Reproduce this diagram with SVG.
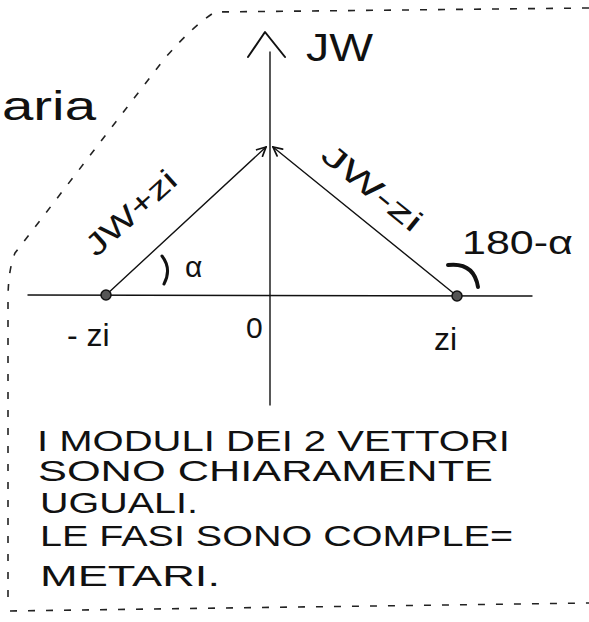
<svg xmlns="http://www.w3.org/2000/svg" width="589" height="622" viewBox="0 0 589 622">
  <style>
    .ink { stroke: #111; fill: none; stroke-linecap: round; stroke-linejoin: round; }
    .thin { stroke-width: 1.4; }
    .dash { stroke: #222; fill: none; stroke-width: 1.6; stroke-dasharray: 7 11; }
    .t { font-family: "Liberation Sans", "DejaVu Sans", sans-serif; fill: #111; }
    .note { font-size: 29px; }
  </style>
  <defs>
    <marker id="vhead" viewBox="0 0 20 20" refX="18" refY="10" markerWidth="11" markerHeight="11" markerUnits="userSpaceOnUse" orient="auto">
      <path d="M 2 2 L 18 10 L 2 18" stroke="#111" stroke-width="3.2" fill="none" stroke-linecap="round"/>
    </marker>
  </defs>
  <rect width="589" height="622" fill="#fff"/>

  <g id="boundary">
    <path class="dash" d="M 589 8 L 215 12 Q 195 24 165 58 L 15 253 Q 8 270 8 300 L 8 606 M 10 611 L 589 603"/>
  </g>

  <g id="connectors">
    <line class="ink thin" x1="270" y1="405" x2="270" y2="52"/>
    <path class="ink" stroke-width="2" d="M 248 57 L 265 32 L 285 57"/>
    <line class="ink thin" x1="28" y1="295" x2="532" y2="296"/>
    <line class="ink thin" x1="106" y1="295" x2="266" y2="147" marker-end="url(#vhead)"/>
    <line class="ink thin" x1="457" y1="296" x2="273" y2="147" marker-end="url(#vhead)"/>
  </g>

  <g id="point-neg">
    <circle cx="106" cy="295" r="5" fill="#555" stroke="#111" stroke-width="1.5"/>
    <text class="t" x="67" y="346" font-size="32">- zi</text>
  </g>
  <g id="point-pos">
    <circle cx="457" cy="296" r="5" fill="#555" stroke="#111" stroke-width="1.5"/>
    <text class="t" x="434" y="350" font-size="32">zi</text>
  </g>
  <g id="origin">
    <text class="t" x="246" y="338" font-size="30">0</text>
  </g>
  <g id="axis-label">
    <text class="t" x="306" y="61" font-size="38" textLength="67" lengthAdjust="spacingAndGlyphs">JW</text>
  </g>
  <g id="area-label">
    <text class="t" x="2" y="120" font-size="40" textLength="94" lengthAdjust="spacingAndGlyphs">aria</text>
  </g>
  <g id="vec-left-label">
    <text class="t" transform="translate(131,213) rotate(-42)" x="0" y="10" font-size="30" text-anchor="middle" textLength="112" lengthAdjust="spacingAndGlyphs">JW+zi</text>
  </g>
  <g id="vec-right-label">
    <text class="t" transform="translate(372,188) rotate(39)" x="0" y="10" font-size="30" text-anchor="middle" textLength="120" lengthAdjust="spacingAndGlyphs">JW-zi</text>
  </g>
  <g id="alpha">
    <path class="ink" stroke-width="3" d="M 162 256 Q 172 269 164 284"/>
    <text class="t" x="185" y="277" font-size="30">α</text>
  </g>
  <g id="supplement">
    <path class="ink" stroke-width="4" d="M 448 265 Q 474 262 478 287"/>
    <text class="t" x="462" y="254" font-size="34" textLength="111" lengthAdjust="spacingAndGlyphs">180-α</text>
  </g>

  <g id="note">
    <text class="t note" x="37" y="451" textLength="473" lengthAdjust="spacingAndGlyphs">I MODULI DEI 2 VETTORI</text>
    <text class="t note" x="38" y="481" textLength="455" lengthAdjust="spacingAndGlyphs">SONO CHIARAMENTE</text>
    <text class="t note" x="40" y="513" textLength="158" lengthAdjust="spacingAndGlyphs">UGUALI.</text>
    <text class="t note" x="40" y="546" textLength="473" lengthAdjust="spacingAndGlyphs">LE FASI SONO COMPLE=</text>
    <text class="t note" x="40" y="586" textLength="180" lengthAdjust="spacingAndGlyphs">METARI.</text>
  </g>
</svg>
